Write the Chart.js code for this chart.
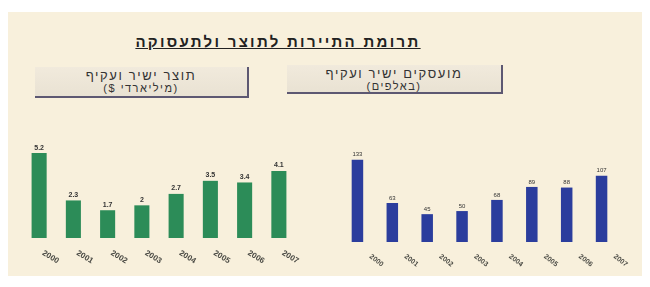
<!DOCTYPE html>
<html>
<head>
<meta charset="utf-8">
<script src="https://cdn.jsdelivr.net/npm/chart.js@4/dist/chart.umd.min.js"></script>
<style>
  body { margin: 0; background: #fff; width: 650px; height: 287px; overflow: hidden; font-family: "Liberation Sans", Arial, sans-serif; }
  #panel { position: absolute; left: 8px; top: 12px; width: 634px; height: 264px; background: #f8f0dc; }
  .title { position: absolute; left: 118px; width: 320px; top: 33px; text-align: center; direction: rtl;
           font-weight: bold; font-size: 15px; letter-spacing: 2.3px; color: #222; text-decoration: underline; }
  .box { position: absolute; direction: rtl; text-align: center; color: #333;
         background: linear-gradient(#f1eadc, #e9e2d3); border-right: 2px solid #5d5872; border-bottom: 2px solid #5d5872; }
  .box .l1 { font-size: 13px; letter-spacing: 1.6px; line-height: 14px; padding-top: 2px; }
  .box .l2 { font-size: 11px; letter-spacing: 1.5px; line-height: 11px; }
  canvas { position: absolute; }
</style>
</head>
<body>
<div id="panel"></div>
<div class="title">תרומת התיירות לתוצר ולתעסוקה</div>
<div class="box" style="left:35px; top:67px; width:212px; height:29px;">
  <div class="l1">תוצר ישיר ועקיף</div>
  <div class="l2">(מיליארדי $)</div>
</div>
<div class="box" style="left:287px; top:65px; width:214px; height:27px;">
  <div class="l1">מועסקים ישיר ועקיף</div>
  <div class="l2">(באלפים)</div>
</div>
<canvas id="gdpChart" width="320" height="160" style="left:0; top:120px;"></canvas>
<canvas id="jobsChart" width="330" height="160" style="left:320px; top:120px;"></canvas>
<script>
const years = ['2000', '2001', '2002', '2003', '2004', '2005', '2006', '2007'];
const gdpValues = [5.2, 2.3, 1.7, 2, 2.7, 3.5, 3.4, 4.1];
const jobsValues = [133, 63, 45, 50, 68, 89, 88, 107];

// value labels above bars and slanted year labels under them
function makeLabelPlugin(opts) {
    return {
        id: 'labels',
        afterDatasetsDraw(chart) {
            const ctx = chart.ctx;
            const meta = chart.getDatasetMeta(0);
            const xs = chart.scales.x;
            ctx.save();
            ctx.fillStyle = '#333';
            ctx.font = opts.valueFont;
            ctx.textAlign = 'center';
            ctx.textBaseline = 'bottom';
            meta.data.forEach((bar, i) => {
                ctx.fillText(String(chart.data.datasets[0].data[i]), bar.x, bar.y - 2);
            });
            ctx.fillStyle = '#4a4a44';
            ctx.font = opts.tickFont;
            ctx.textAlign = 'left';
            ctx.textBaseline = 'top';
            chart.data.labels.forEach((lab, i) => {
                const x = xs.getPixelForValue(i) + opts.dx;
                const y = chart.chartArea.bottom + opts.dy;
                ctx.save();
                ctx.translate(x, y);
                ctx.rotate(opts.angle * Math.PI / 180);
                ctx.fillText(lab, 0, 0);
                ctx.restore();
            });
            ctx.restore();
        }
    };
}

const gdpChart = new Chart(document.getElementById('gdpChart').getContext('2d'), {
    type: 'bar',
    data: {
        labels: years,
        datasets: [{
            data: gdpValues,
            backgroundColor: '#2c8c58',
            barPercentage: 0.44,
            categoryPercentage: 1
        }]
    },
    options: {
        responsive: false,
        animation: false,
        layout: { padding: { left: 22, right: 24, top: 20, bottom: 42 } },
        plugins: { legend: { display: false }, tooltip: { enabled: false } },
        scales: {
            x: { display: false },
            y: { display: false, min: 0, max: 6 }
        }
    },
    plugins: [makeLabelPlugin({ valueFont: 'bold 7px "Liberation Sans"', tickFont: 'bold 8px "Liberation Sans"', dx: 6, dy: 11, angle: 32 })]
});

const jobsChart = new Chart(document.getElementById('jobsChart').getContext('2d'), {
    type: 'bar',
    data: {
        labels: years,
        datasets: [{
            data: jobsValues,
            backgroundColor: '#2b3d9d',
            barPercentage: 0.33,
            categoryPercentage: 1
        }]
    },
    options: {
        responsive: false,
        animation: false,
        layout: { padding: { left: 20, right: 31, top: 23, bottom: 38 } },
        plugins: { legend: { display: false }, tooltip: { enabled: false } },
        scales: {
            x: { display: false },
            y: { display: false, min: 0, max: 160 }
        }
    },
    plugins: [makeLabelPlugin({ valueFont: '6px "Liberation Sans"', tickFont: 'bold 7px "Liberation Sans"', dx: 15, dy: 11, angle: 38 })]
});
</script>
</body>
</html>
